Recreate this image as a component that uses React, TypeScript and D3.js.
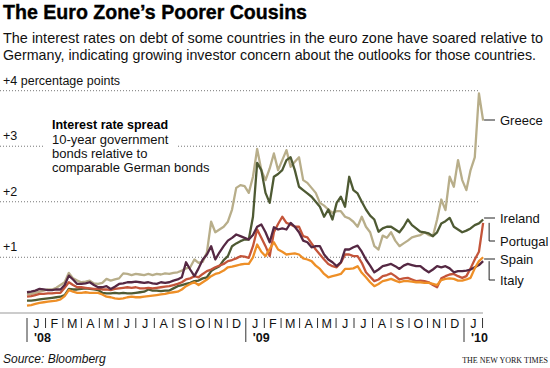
import * as d3 from 'd3';
import React from 'react';

// weekly spread over German bunds, percentage points, starting 2008-01-01
const startDate = new Date(2008, 0, 1);

const greece = [
  0.33, 0.34, 0.36, 0.38, 0.40, 0.42, 0.42, 0.45, 0.50, 0.55,
  0.72, 0.62, 0.58, 0.55, 0.56, 0.58, 0.53, 0.52, 0.54, 0.61,
  0.58, 0.60, 0.62, 0.71, 0.70, 0.68, 0.70, 0.69, 0.68, 0.70,
  0.68, 0.70, 0.69, 0.71, 0.70, 0.72, 0.73, 0.76, 0.80, 0.82,
  0.96, 0.90, 0.92, 1.09, 1.64, 1.45, 1.50, 1.55, 1.64, 1.86,
  2.25, 2.30, 2.28, 2.16, 2.45, 2.95, 2.57, 2.39, 2.60, 2.87,
  2.57, 2.75, 2.93, 2.63, 2.72, 2.80, 2.39, 2.34, 2.25, 2.16,
  1.98, 1.93, 1.86, 1.80, 1.83, 1.83, 1.73, 1.70, 1.64, 1.55,
  1.73, 1.55, 1.45, 1.20, 1.14, 1.39, 1.35, 1.45, 1.30, 1.20,
  1.25, 1.30, 1.36, 1.38, 1.40, 1.45, 1.40, 1.38, 1.68, 2.04,
  1.85, 2.45, 2.27, 2.75, 2.39, 2.21, 2.57, 2.80, 3.95, 3.46,
];

const ireland = [
  0.22, 0.22, 0.23, 0.24, 0.25, 0.26, 0.27, 0.28, 0.29, 0.32,
  0.43, 0.42, 0.42, 0.43, 0.44, 0.43, 0.42, 0.41, 0.36, 0.35,
  0.35, 0.36, 0.35, 0.36, 0.35, 0.35, 0.36, 0.37, 0.38, 0.42,
  0.40, 0.40, 0.39, 0.40, 0.40, 0.44, 0.48, 0.50, 0.52, 0.54,
  0.57, 0.58, 0.62, 0.64, 0.75, 0.80, 0.84, 0.95, 1.02, 1.20,
  1.25, 1.29, 1.32, 1.32, 1.73, 2.70, 2.57, 2.16, 1.98, 2.45,
  2.50, 2.57, 2.75, 2.80, 2.57, 2.27, 2.21, 2.15, 2.09, 2.00,
  1.91, 1.73, 1.86, 1.68, 1.98, 2.09, 1.91, 2.45, 2.21, 2.15,
  2.00, 1.86, 1.75, 1.68, 1.46, 1.52, 1.55, 1.55, 1.50, 1.45,
  1.55, 1.68, 1.58, 1.52, 1.46, 1.45, 1.43, 1.38, 1.45, 1.61,
  1.65, 1.71, 1.55, 1.50, 1.45, 1.48, 1.52, 1.58, 1.61, 1.68,
];

const portugal = [
  0.29, 0.30, 0.32, 0.34, 0.34, 0.35, 0.35, 0.36, 0.36, 0.45,
  0.55, 0.50, 0.46, 0.46, 0.45, 0.44, 0.43, 0.43, 0.42, 0.42,
  0.41, 0.43, 0.44, 0.45, 0.46, 0.45, 0.46, 0.44, 0.44, 0.45,
  0.44, 0.45, 0.46, 0.47, 0.48, 0.50, 0.52, 0.55, 0.60, 0.62,
  0.66, 0.64, 0.70, 0.75, 0.78, 0.82, 0.85, 0.88, 0.93, 0.95,
  0.98, 1.02, 1.01, 0.99, 1.20, 1.50, 1.35, 1.20, 1.02, 1.45,
  1.60, 1.73, 1.62, 1.59, 1.55, 1.55, 1.38, 1.36, 1.25, 1.14,
  1.05, 0.96, 0.88, 0.84, 0.82, 0.90, 1.05, 1.05, 1.02, 1.02,
  0.90, 0.73, 0.65, 0.57, 0.60, 0.66, 0.68, 0.71, 0.66, 0.60,
  0.62, 0.63, 0.60, 0.57, 0.58, 0.57, 0.55, 0.50, 0.46, 0.62,
  0.66, 0.69, 0.70, 0.66, 0.63, 0.66, 0.80, 0.96, 1.10, 1.62,
];

const spain = [
  0.13, 0.14, 0.16, 0.18, 0.19, 0.20, 0.21, 0.22, 0.24, 0.30,
  0.41, 0.38, 0.36, 0.36, 0.37, 0.36, 0.36, 0.36, 0.33, 0.29,
  0.28, 0.26, 0.25, 0.26, 0.28, 0.29, 0.28, 0.28, 0.29, 0.30,
  0.31, 0.32, 0.33, 0.34, 0.36, 0.37, 0.38, 0.42, 0.48, 0.52,
  0.55, 0.50, 0.55, 0.60, 0.66, 0.70, 0.72, 0.76, 0.82, 0.83,
  0.85, 0.87, 0.88, 0.88, 1.00, 1.23, 1.10, 1.02, 1.15, 1.27,
  1.14, 1.10, 1.05, 1.06, 1.07, 1.05, 0.98, 0.96, 0.93, 0.85,
  0.79, 0.70, 0.64, 0.66, 0.68, 0.70, 0.79, 0.79, 0.80, 0.84,
  0.72, 0.64, 0.55, 0.48, 0.52, 0.57, 0.59, 0.61, 0.58, 0.55,
  0.57, 0.57, 0.56, 0.55, 0.55, 0.54, 0.54, 0.52, 0.50, 0.59,
  0.61, 0.62, 0.61, 0.58, 0.58, 0.60, 0.63, 0.80, 0.93, 1.00,
];

const italy = [
  0.37, 0.38, 0.40, 0.43, 0.42, 0.41, 0.41, 0.42, 0.42, 0.50,
  0.67, 0.60, 0.52, 0.52, 0.53, 0.55, 0.50, 0.46, 0.46, 0.48,
  0.43, 0.47, 0.52, 0.53, 0.55, 0.55, 0.56, 0.55, 0.54, 0.55,
  0.53, 0.52, 0.55, 0.54, 0.55, 0.58, 0.60, 0.64, 0.91, 0.78,
  0.66, 0.80, 0.96, 1.05, 1.20, 0.96, 1.09, 1.20, 1.30, 1.35,
  1.41, 1.38, 1.35, 1.32, 1.40, 1.55, 1.59, 1.45, 1.27, 1.54,
  1.50, 1.52, 1.50, 1.62, 1.55, 1.45, 1.30, 1.27, 1.18, 1.20,
  1.20, 1.05, 0.96, 0.91, 0.84, 0.91, 1.14, 1.14, 1.18, 1.21,
  1.10, 0.96, 0.85, 0.73, 0.78, 0.84, 0.86, 0.88, 0.84, 0.79,
  0.85, 0.88, 0.86, 0.84, 0.84, 0.78, 0.73, 0.78, 0.84, 0.82,
  0.84, 0.80, 0.73, 0.75, 0.75, 0.76, 0.78, 0.82, 0.86, 0.93,
];

const gridTicks = [1, 2, 3, 4];
const gridLabels = ['+1', '+2', '+3', '+4 percentage points'];
const monthLetters = ['J', 'F', 'M', 'A', 'M', 'J', 'J', 'A', 'S', 'O', 'N', 'D'];
const yearLabels = ["'08", "'09", "'10"];

const series = [
  { name: 'Greece', values: greece, color: '#b8ae8a', labelY: 120 },
  { name: 'Ireland', values: ireland, color: '#4e5a33', labelY: 218 },
  { name: 'Portugal', values: portugal, color: '#c4553a', labelY: 241 },
  { name: 'Italy', values: italy, color: '#552843', labelY: 280 },
  { name: 'Spain', values: spain, color: '#ee8f27', labelY: 259 },
];

const W = 550;
const H = 368;
const sans = '"Liberation Sans", Arial, Helvetica, sans-serif';

export default function App() {
  const x = d3.scaleTime().domain([new Date(2008, 0, 1), new Date(2010, 0, 1)]).range([27, 464]);
  const y = d3.scaleLinear().domain([0, 4]).range([312.8, 90.7]);

  const line = d3.line<number>()
    .x((d, i) => x(d3.timeDay.offset(startDate, i * 7)))
    .y((d) => y(d));

  const months = d3.timeMonth.range(new Date(2008, 0, 1), new Date(2010, 1, 1));
  const lastX = x(d3.timeDay.offset(startDate, (greece.length - 1) * 7));

  return (
    <svg width={W} height={H} style={{ position: 'absolute', left: 0, top: 0, background: '#fff' }}
      fontFamily={sans}>
      <text x={3} y={19} fontSize={21} fontWeight="bold" textLength={304} lengthAdjust="spacingAndGlyphs"
        fill="#000" stroke="#000" strokeWidth={0.4}>The Euro Zone’s Poorer Cousins</text>
      <text x={3} y={43} fontSize={14.5} fill="#111" textLength={540} lengthAdjust="spacingAndGlyphs">
        The interest rates on debt of some countries in the euro zone have soared relative to
      </text>
      <text x={3} y={60} fontSize={14.5} fill="#111" textLength={533} lengthAdjust="spacingAndGlyphs">
        Germany, indicating growing investor concern about the outlooks for those countries.
      </text>

      {/* dotted gridlines */}
      {gridTicks.map((t, i) => (
        <g key={t}>
          {t === 3 ? (
            <>
              <line x1={0} x2={43} y1={y(t)} y2={y(t)} stroke="#777" strokeDasharray="1,2" />
              <line x1={178} x2={480} y1={y(t)} y2={y(t)} stroke="#777" strokeDasharray="1,2" />
            </>
          ) : (
            <line x1={0} x2={480} y1={y(t)} y2={y(t)} stroke="#777" strokeDasharray="1,2" />
          )}
          <text x={3} y={y(t) - 6} fontSize={12.5} fill="#111">{gridLabels[i]}</text>
        </g>
      ))}

      <text x={52} y={129} fontSize={12.5} fontWeight="bold" fill="#000">Interest rate spread</text>
      <text x={52} y={144} fontSize={13} fill="#111">10-year government</text>
      <text x={52} y={158} fontSize={13} fill="#111">bonds relative to</text>
      <text x={52} y={172} fontSize={13} fill="#111">comparable German bonds</text>

      {/* lines */}
      {series.map((s) => (
        <path key={s.name} d={line(s.values) || ''} fill="none" stroke={s.color} strokeWidth={2.3}
          strokeLinejoin="round" />
      ))}

      {/* labels with leaders */}
      {series.map((s) => {
        const endY = y(s.values[s.values.length - 1]);
        const vertical = Math.abs(endY - s.labelY) > 4;
        return (
          <g key={s.name + '-label'}>
            {vertical ? (
              <path d={`M${lastX + 6},${endY}V${s.labelY}H${495}`} fill="none" stroke="#222" />
            ) : (
              <line x1={lastX + 1} x2={495} y1={s.labelY} y2={s.labelY} stroke="#222" />
            )}
            <text x={500} y={s.labelY + 4.5} fontSize={13} fill="#111">{s.name}</text>
          </g>
        );
      })}

      {/* x axis */}
      <line x1={0} x2={483} y1={313} y2={313} stroke="#999" strokeWidth={1.2} />
      {months.map((m) => {
        const x0 = x(m);
        const x1 = x(d3.timeMonth.offset(m, 1));
        const isJan = m.getMonth() === 0;
        return (
          <g key={m.toISOString()}>
            <line x1={x0} x2={x0} y1={318} y2={isJan ? 342 : 328} stroke="#333" />
            <text x={(x0 + x1) / 2} y={327.5} fontSize={12.5} textAnchor="middle" fill="#111">
              {monthLetters[m.getMonth()]}
            </text>
          </g>
        );
      })}
      <line x1={x(new Date(2010, 1, 1))} x2={x(new Date(2010, 1, 1))} y1={318} y2={328} stroke="#333" />
      {yearLabels.map((l, i) => (
        <text key={l} x={x(new Date(2008 + i, 0, 1)) + 7} y={342} fontSize={12.5} fontWeight="bold"
          fill="#111">{l}</text>
      ))}

      <text x={3} y={363} fontSize={12} fontStyle="italic" fill="#111">Source: Bloomberg</text>
      <text x={548} y={363} fontSize={8} textAnchor="end" fill="#111"
        fontFamily='"Liberation Serif", "DejaVu Serif", serif'>THE NEW YORK TIMES</text>
    </svg>
  );
}
